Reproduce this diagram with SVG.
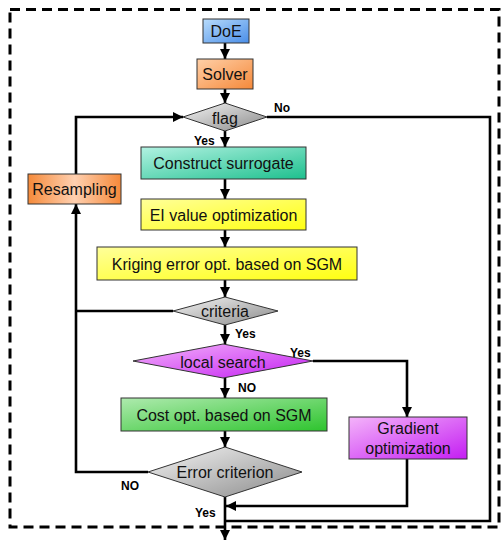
<svg xmlns="http://www.w3.org/2000/svg" width="502" height="542" viewBox="0 0 502 542">
<defs>
<style>
.box{stroke:#333;stroke-width:1}
.t{font-family:"Liberation Sans",Arial,sans-serif;font-size:16px;fill:#111;text-anchor:middle;dominant-baseline:central}
.lbl{font-family:"Liberation Sans",Arial,sans-serif;font-size:12px;font-weight:bold;fill:#000}
.ln{fill:none;stroke:#000;stroke-width:2.6}
</style>
<linearGradient id="gBlue" x1="0" y1="0" x2="1" y2="1"><stop offset="0" stop-color="#b8dcfc"/><stop offset="1" stop-color="#4a8ee8"/></linearGradient>
<linearGradient id="gOrange" x1="0" y1="0" x2="1" y2="1"><stop offset="0" stop-color="#ffd0a8"/><stop offset="1" stop-color="#f5893a"/></linearGradient>
<linearGradient id="gResamp" x1="0" y1="0" x2="1" y2="0"><stop offset="0" stop-color="#f58a3a"/><stop offset="0.5" stop-color="#ffd0b0"/><stop offset="1" stop-color="#f5893a"/></linearGradient>
<linearGradient id="gTeal" x1="0" y1="0" x2="1" y2="1"><stop offset="0" stop-color="#b2f2e2"/><stop offset="1" stop-color="#1ec08e"/></linearGradient>
<linearGradient id="gYellow" x1="0" y1="0" x2="1" y2="1"><stop offset="0" stop-color="#ffff9a"/><stop offset="1" stop-color="#ffff10"/></linearGradient>
<linearGradient id="gGreen" x1="0" y1="0" x2="1" y2="1"><stop offset="0" stop-color="#aeeaae"/><stop offset="1" stop-color="#2ec42e"/></linearGradient>
<linearGradient id="gViolet" x1="0" y1="0" x2="1" y2="1"><stop offset="0" stop-color="#f4b4fa"/><stop offset="1" stop-color="#c41ef2"/></linearGradient>
<linearGradient id="gGray" x1="0" y1="0" x2="1" y2="1"><stop offset="0" stop-color="#f4f4f4"/><stop offset="1" stop-color="#8a8a8a"/></linearGradient>
<marker id="ah" viewBox="0 0 10 10" refX="10" refY="5" markerWidth="4" markerHeight="4" orient="auto" markerUnits="strokeWidth"><path d="M0,0 L10,5 L0,10 z" fill="#000"/></marker>
</defs>

<rect x="10" y="9.5" width="489" height="517.5" fill="none" stroke="#000" stroke-width="3" stroke-dasharray="10,6"/>

<g id="connectors">
<line class="ln" x1="225" y1="43" x2="225" y2="59" marker-end="url(#ah)"/>
<line class="ln" x1="225" y1="89" x2="225" y2="103" marker-end="url(#ah)"/>
<line class="ln" x1="225" y1="131" x2="225" y2="147" marker-end="url(#ah)"/>
<line class="ln" x1="225" y1="179" x2="225" y2="199" marker-end="url(#ah)"/>
<line class="ln" x1="225" y1="230" x2="225" y2="247" marker-end="url(#ah)"/>
<line class="ln" x1="225" y1="280" x2="225" y2="297" marker-end="url(#ah)"/>
<line class="ln" x1="225" y1="325" x2="225" y2="344" marker-end="url(#ah)"/>
<line class="ln" x1="225" y1="378" x2="225" y2="398" marker-end="url(#ah)"/>
<line class="ln" x1="225" y1="431" x2="225" y2="447" marker-end="url(#ah)"/>
<line class="ln" x1="225" y1="497" x2="225" y2="540" marker-end="url(#ah)"/>
<polyline class="ln" points="76,174 76,117 183,117" marker-end="url(#ah)"/>
<polyline class="ln" points="173,311 76,311"/>
<polyline class="ln" points="148,472 76,472 76,204" marker-end="url(#ah)"/>
<polyline class="ln" points="267,117 490,117 490,521 226,521"/>
<polyline class="ln" points="313,361 407,361 407,417" marker-end="url(#ah)"/>
<polyline class="ln" points="407,459 407,506 226,506" marker-end="url(#ah)"/>
</g>

<g id="doe"><rect class="box" x="203" y="19" width="46" height="24" fill="url(#gBlue)" stroke="#2f5f9f"/><text class="t" x="226" y="31.5">DoE</text></g>
<g id="solver"><rect class="box" x="197" y="59" width="56" height="30" fill="url(#gOrange)"/><text class="t" x="225" y="74.5">Solver</text></g>
<g id="flag"><polygon class="box" points="183,117 225,103 267,117 225,131" fill="url(#gGray)"/><text class="t" x="225" y="118">flag</text></g>
<g id="construct"><rect class="box" x="141" y="147" width="165" height="32" fill="url(#gTeal)"/><text class="t" x="223.5" y="163.5">Construct surrogate</text></g>
<g id="resampling"><rect class="box" x="28" y="174" width="93" height="30" fill="url(#gResamp)"/><text class="t" x="74.5" y="189.5">Resampling</text></g>
<g id="ei"><rect class="box" x="141" y="199" width="165" height="31" fill="url(#gYellow)"/><text class="t" x="223.5" y="215">EI value optimization</text></g>
<g id="kriging"><rect class="box" x="97" y="247" width="260" height="33" fill="url(#gYellow)"/><text class="t" x="227" y="264">Kriging error opt. based on SGM</text></g>
<g id="criteria"><polygon class="box" points="173,311 225,297 278,311 225,325" fill="url(#gGray)"/><text class="t" x="225" y="311.5">criteria</text></g>
<g id="localsearch"><polygon class="box" points="133,361 223,344 313,361 223,378" fill="url(#gViolet)"/><text class="t" x="223" y="362">local search</text></g>
<g id="costopt"><rect class="box" x="121" y="398" width="206" height="33" fill="url(#gGreen)"/><text class="t" x="224" y="415">Cost opt. based on SGM</text></g>
<g id="gradient"><rect class="box" x="349" y="417" width="118" height="42" fill="url(#gViolet)"/><text class="t" x="408" y="428.5">Gradient</text><text class="t" x="408" y="448">optimization</text></g>
<g id="errorcrit"><polygon class="box" points="148,472 225,447 302,472 225,497" fill="url(#gGray)"/><text class="t" x="225" y="472.5">Error criterion</text></g>

<g id="labels">
<text class="lbl" x="274" y="112">No</text>
<text class="lbl" x="194" y="145">Yes</text>
<text class="lbl" x="235" y="338">Yes</text>
<text class="lbl" x="290" y="357">Yes</text>
<text class="lbl" x="238" y="392">NO</text>
<text class="lbl" x="121" y="490">NO</text>
<text class="lbl" x="195" y="517">Yes</text>
</g>
</svg>
